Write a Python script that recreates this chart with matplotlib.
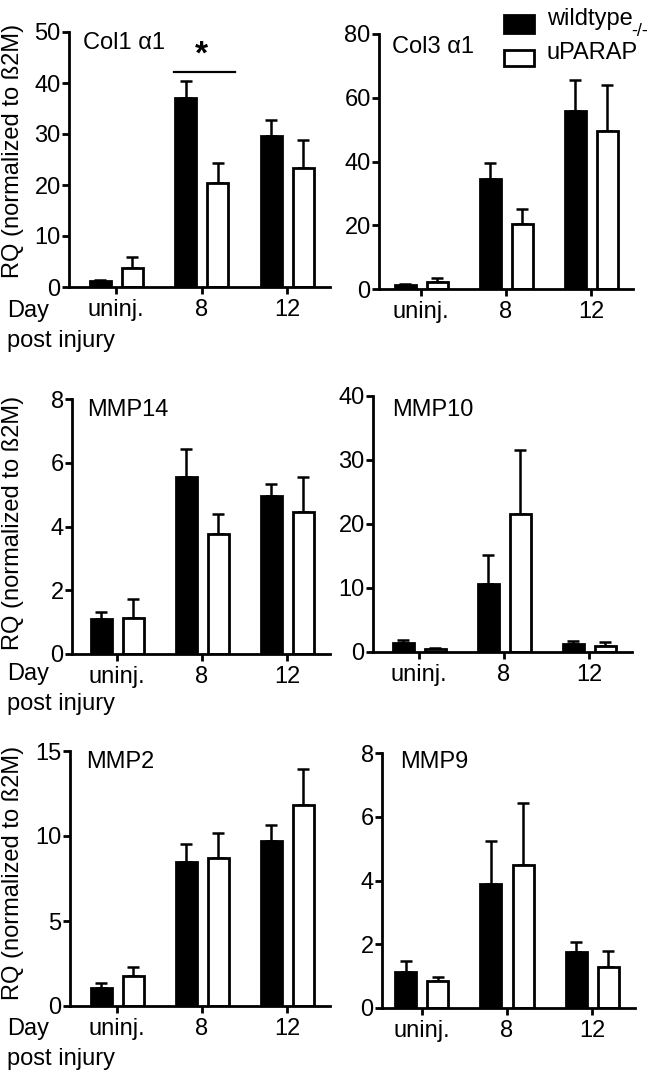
import matplotlib
matplotlib.use('Agg')
import matplotlib.pyplot as plt
import numpy as np
from matplotlib.patches import Rectangle

plt.rcParams['font.family'] = ['Liberation Sans', 'DejaVu Sans']

W, H = 660, 1079

groups = ['uninj.', '8', '12']
series_labels = ['wildtype', 'uPARAP']

# Col1 alpha1
col1_wt = [1.1, 37.1, 29.7]
col1_wt_err = [0.2, 3.2, 3.1]
col1_ko = [3.8, 20.3, 23.3]
col1_ko_err = [2.1, 4.1, 5.5]
# Col3 alpha1
col3_wt = [1.1, 34.6, 56.0]
col3_wt_err = [0.4, 4.9, 9.5]
col3_ko = [2.1, 20.5, 49.5]
col3_ko_err = [1.5, 4.6, 14.4]
# MMP14
mmp14_wt = [1.10, 5.54, 4.96]
mmp14_wt_err = [0.21, 0.88, 0.37]
mmp14_ko = [1.12, 3.77, 4.47]
mmp14_ko_err = [0.60, 0.63, 1.07]
# MMP10
mmp10_wt = [1.4, 10.6, 1.25]
mmp10_wt_err = [0.4, 4.5, 0.42]
mmp10_ko = [0.5, 21.5, 1.0]
mmp10_ko_err = [0.2, 10.1, 0.5]
# MMP2
mmp2_wt = [1.08, 8.49, 9.69]
mmp2_wt_err = [0.29, 1.02, 0.98]
mmp2_ko = [1.78, 8.69, 11.8]
mmp2_ko_err = [0.49, 1.51, 2.16]
# MMP9
mmp9_wt = [1.12, 3.90, 1.75]
mmp9_wt_err = [0.34, 1.35, 0.32]
mmp9_ko = [0.86, 4.48, 1.30]
mmp9_ko_err = [0.11, 1.94, 0.50]

titles = ['Col1 α1', 'Col3 α1', 'MMP14', 'MMP10', 'MMP2', 'MMP9']
yticks_list = [[0, 10, 20, 30, 40, 50], [0, 20, 40, 60, 80], [0, 2, 4, 6, 8],
               [0, 10, 20, 30, 40], [0, 5, 10, 15], [0, 2, 4, 6, 8]]
ylabel = 'RQ (normalized to ß2M)'

data = [(col1_wt, col1_wt_err, col1_ko, col1_ko_err),
        (col3_wt, col3_wt_err, col3_ko, col3_ko_err),
        (mmp14_wt, mmp14_wt_err, mmp14_ko, mmp14_ko_err),
        (mmp10_wt, mmp10_wt_err, mmp10_ko, mmp10_ko_err),
        (mmp2_wt, mmp2_wt_err, mmp2_ko, mmp2_ko_err),
        (mmp9_wt, mmp9_wt_err, mmp9_ko, mmp9_ko_err)]

# layout in pixels: (axis left x, axis right x, y-top px, y-zero px, tick uninj px, tick 12 px)
layout = [(69, 330, 32, 287, 116, 287),
          (379, 633, 34, 289, 421, 591),
          (72, 330, 399, 654, 117, 287),
          (373, 632, 396, 652, 419, 589),
          (70, 330, 751, 1006, 117, 287),
          (382, 635, 753, 1008, 422, 592)]
title_pos = [(83, 43), (392, 47), (87, 410), (392, 410), (86, 762), (400, 762)]

fig = plt.figure(figsize=(W / 100, H / 100), dpi=100)
FS = 17
LW = 2.0

axes = []
for i, (lay, d) in enumerate(zip(layout, data)):
    xl, xr, yt, yb, tu, t12 = lay
    ax = fig.add_axes([xl / W, 1 - yb / H, (xr - xl) / W, (yb - yt) / H])
    s = (t12 - tu) / 2.0
    ax.set_xlim((xl - tu) / s, (xr - tu) / s)
    yt_ = yticks_list[i]
    ax.set_ylim(0, yt_[-1])
    x = np.arange(len(groups))
    off = 16 / s
    bw = 21 / s
    wt, wte, ko, koe = d
    b1 = ax.bar(x - off, wt, bw, color='black', edgecolor='black', linewidth=LW, zorder=2,
                label=series_labels[0])
    b2 = ax.bar(x + off, ko, bw, color='white', edgecolor='black', linewidth=LW, zorder=2,
                label=series_labels[1])
    ax.errorbar(x - off, wt, yerr=[np.zeros(3), wte], fmt='none', ecolor='black',
                elinewidth=1.8, capsize=4.5, capthick=1.8, zorder=1)
    ax.errorbar(x + off, ko, yerr=[np.zeros(3), koe], fmt='none', ecolor='black',
                elinewidth=1.8, capsize=4.5, capthick=1.8, zorder=1)
    ax.set_xticks(x)
    ax.set_xticklabels(groups)
    ax.set_yticks(yt_)
    ax.set_yticklabels([str(v) for v in yt_])
    for sp in ['top', 'right']:
        ax.spines[sp].set_visible(False)
    for sp in ['left', 'bottom']:
        ax.spines[sp].set_linewidth(LW)
    ax.tick_params(axis='both', width=LW, length=5, labelsize=FS, color='black')
    ax.tick_params(axis='y', pad=1.0)
    ax.tick_params(axis='x', pad=3.5)
    ax.patch.set_alpha(0)
    fig.text(title_pos[i][0] / W, 1 - title_pos[i][1] / H, titles[i], fontsize=FS,
             ha='left', va='center')
    axes.append((ax, b1, b2))

# y labels and "Day / post injury" on left panels
for (yc, dy, py) in [(151, 311, 341), (523, 674, 704), (873, 1029, 1059)]:
    fig.text(13 / W, 1 - yc / H, ylabel, rotation=90, fontsize=FS, ha='center', va='center')
    fig.text(7 / W, 1 - dy / H, 'Day', fontsize=FS, ha='left', va='center')
    fig.text(7 / W, 1 - py / H, 'post injury', fontsize=FS, ha='left', va='center')

# significance marker on Col1 panel
ax0 = axes[0][0]
ax0.plot([1 - 0.32, 1 + 0.39], [42.2, 42.2], color='black', lw=1.6, clip_on=False)
ax0.text(1.0, 42.4, '*', fontsize=24, ha='center', va='bottom', fontweight='bold')

# legend (top right)
fig.patches.append(Rectangle((504 / W, 1 - 33 / H), 30 / W, 18 / H, transform=fig.transFigure,
                             facecolor='black', edgecolor='black', linewidth=LW))
fig.patches.append(Rectangle((504 / W, 1 - 66 / H), 30 / W, 16 / H, transform=fig.transFigure,
                             facecolor='white', edgecolor='black', linewidth=LW))
fig.text(547 / W, 1 - 25 / H, series_labels[0], fontsize=FS, ha='left', va='baseline')
fig.text(547 / W, 1 - 59 / H, series_labels[1], fontsize=FS, ha='left', va='baseline')
fig.text(631 / W, 1 - 31 / H, '-/-', fontsize=13, ha='left', va='center')

fig.savefig('out.png', dpi=100, facecolor='white')
